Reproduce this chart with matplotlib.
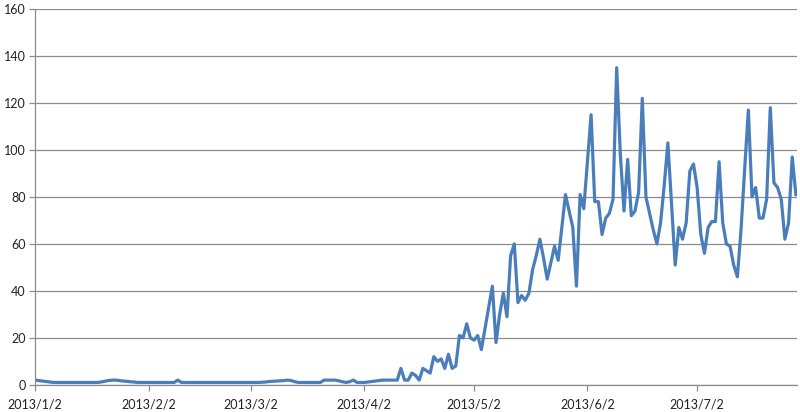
import numpy as np
import pandas as pd
import matplotlib
matplotlib.use("Agg")
import matplotlib.pyplot as plt

# daily counts, 2013/1/2 .. 2013/7/29
start_date = "2013-01-02"
early_values = [
    2, 1.8, 1.6, 1.4, 1.2, 1, 1, 1, 1, 1,
    1, 1, 1, 1, 1, 1, 1, 1, 1.2, 1.5,
    1.8, 2, 2, 1.8, 1.6, 1.5, 1.3, 1.2, 1, 1,
    1, 1, 1, 1, 1, 1, 1, 1, 1, 2,
    1, 1, 1, 1, 1, 1, 1, 1, 1, 1,
    1, 1, 1, 1, 1, 1, 1, 1, 1, 1,
    1, 1, 1.1, 1.2, 1.4, 1.5, 1.6, 1.7, 1.8, 2,
    1.8, 1.3, 1, 1, 1, 1, 1, 1, 1, 2,
    2, 2, 2, 1.7, 1.3, 1, 1.3, 2, 1, 1,
    1, 1.2, 1.4, 1.6, 1.8, 2, 2, 2, 2, 2,
]
late_values = [
    7, 2, 2, 5, 4, 2, 7, 6, 5, 12,
    10, 11, 7, 13, 7, 8, 21, 20, 26, 20,
    19, 21, 15, 24, 33, 42, 18, 30, 39, 29,
    55, 60, 35, 38, 36, 39, 49, 55, 62, 54,
    45, 52, 59, 53, 67, 81, 74, 67, 42, 81,
    75, 95, 115, 78, 78, 64, 71, 73, 79, 135,
    98, 74, 96, 72, 74, 82, 122, 80, 73, 66,
    60, 69, 85, 103, 77, 51, 67, 62, 69, 91,
    94, 84, 64, 56, 67, 69.5, 69.5, 95, 69, 60,
    59, 51, 46, 66, 92, 117, 80, 84, 71, 71,
    79, 118, 86, 84, 79, 62, 69, 97, 81,
]
values = early_values + late_values
dates = pd.date_range(start_date, periods=len(values), freq="D")

tick_dates = ["2013-01-02", "2013-02-02", "2013-03-02", "2013-04-02",
              "2013-05-02", "2013-06-02", "2013-07-02"]
tick_labels = ["2013/1/2", "2013/2/2", "2013/3/2", "2013/4/2",
               "2013/5/2", "2013/6/2", "2013/7/2"]
y_ticks = [0, 20, 40, 60, 80, 100, 120, 140, 160]

plt.rcParams['font.family'] = ['Lato', 'DejaVu Sans']

fig = plt.figure(figsize=(8, 4.12), dpi=100)
ax = fig.add_axes([0.044, 0.066, 0.952, 0.912])

ax.plot(dates, values, color='#4a7ebb', linewidth=2.3, solid_joinstyle='round')

ax.set_ylim(0, 160)
ax.set_yticks(y_ticks)
ax.set_xlim(dates[0], dates[-1] + pd.Timedelta(hours=6))
ax.set_xticks(pd.to_datetime(tick_dates))
ax.set_xticklabels(tick_labels)

ax.grid(axis='y', color='#8c8c8c', linewidth=0.9)
ax.set_axisbelow(True)
for side in ['top', 'right']:
    ax.spines[side].set_visible(False)
for side in ['left', 'bottom']:
    ax.spines[side].set_color('#8c8c8c')
    ax.spines[side].set_linewidth(0.9)

ax.tick_params(axis='both', colors='#8c8c8c', length=4, width=0.9,
               labelsize=9, labelcolor='#222222')
ax.tick_params(axis='y', pad=3)
ax.tick_params(axis='x', pad=6)

plt.savefig("out.png", dpi=100)
